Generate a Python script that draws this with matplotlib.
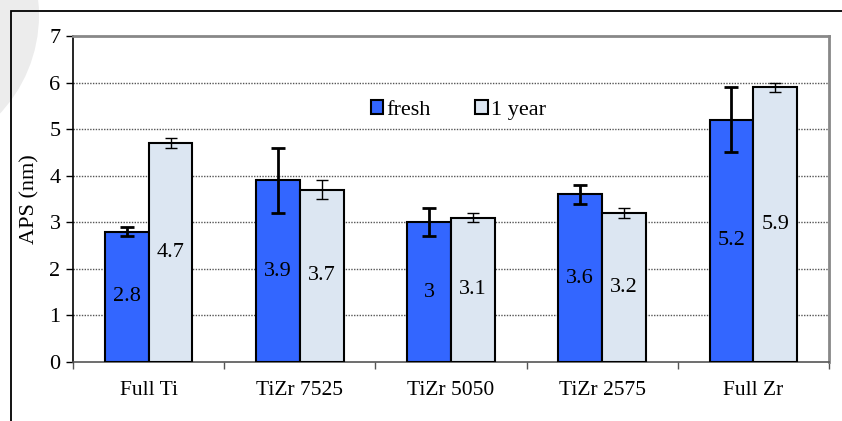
import matplotlib
matplotlib.use("Agg")
import matplotlib.pyplot as plt
import numpy as np
from matplotlib.patches import Ellipse, Rectangle

categories = ["Full Ti", "TiZr 7525", "TiZr 5050", "TiZr 2575", "Full Zr"]
fresh = [2.8, 3.9, 3.0, 3.6, 5.2]
fresh_err = [0.1, 0.7, 0.3, 0.2, 0.7]
year1 = [4.7, 3.7, 3.1, 3.2, 5.9]
year1_err = [0.1, 0.2, 0.1, 0.1, 0.1]
yticks = [0, 1, 2, 3, 4, 5, 6, 7]

plt.rcParams["font.family"] = ["Liberation Serif", "DejaVu Serif"]

W, H = 842, 421
fig = plt.figure(figsize=(W / 100, H / 100), dpi=100)

# decorative background disc in the upper-left corner
fig.patches.append(Ellipse((-105 / W, 1 - 15 / H), 2 * 144 / W, 2 * 144 / H,
                           transform=fig.transFigure, facecolor="#ececec",
                           edgecolor="none", zorder=0))
# outer frame (runs off the right and bottom edges)
fig.patches.append(Rectangle((11 / W, -0.1), 1.2, 1 - 11 / H + 0.1,
                             transform=fig.transFigure, facecolor="none",
                             edgecolor="black", linewidth=1.3, zorder=1))

ax = fig.add_axes([73 / W, 59 / H, 756 / W, 326 / H])
ax.set_facecolor("white")

x = np.arange(len(categories))
w = 0.29
fs = 16

ax.bar(x - w / 2, fresh, w, color="#3366ff", edgecolor="black",
       linewidth=1.5, zorder=3, label="fresh")
ax.bar(x + w / 2, year1, w, color="#dce6f2", edgecolor="black",
       linewidth=1.5, zorder=3, label="1 year")
ax.errorbar(x - w / 2, fresh, yerr=fresh_err, fmt="none", ecolor="black",
            elinewidth=2, capsize=5, capthick=2, zorder=4)
ax.errorbar(x + w / 2, year1, yerr=year1_err, fmt="none", ecolor="black",
            elinewidth=1, capsize=4, capthick=1, zorder=4)

for xi, v in zip(x - w / 2, fresh):
    ax.text(xi, v / 2, f"{v:g}", ha="center", va="center", fontsize=fs, zorder=5)
for xi, v in zip(x + w / 2, year1):
    ax.text(xi, v / 2, f"{v:g}", ha="center", va="center", fontsize=fs, zorder=5)

ax.set_xlim(-0.5, len(categories) - 0.5)
ax.set_ylim(0, 7)
ax.set_yticks(yticks)
ax.set_yticklabels([str(t) for t in yticks], fontsize=fs)
ax.set_xticks(np.arange(len(categories) + 1) - 0.5)
ax.set_xticklabels([])
ax.set_xticks(x, minor=True)
ax.set_xticklabels(categories, minor=True, fontsize=15.5)
ax.tick_params(axis="x", which="minor", length=0, pad=14)
ax.tick_params(axis="x", which="major", length=5, width=1, direction="out", color="#555555")
ax.tick_params(axis="y", length=5, width=1, direction="out", pad=4)

for yv in yticks[1:-1]:
    ax.axhline(yv, color="#555555", linewidth=1, linestyle=(0, (1, 1)), zorder=1)

ax.spines["left"].set_color("black")
ax.spines["left"].set_linewidth(1.2)
ax.spines["bottom"].set_color("#555555")
ax.spines["bottom"].set_linewidth(1.2)
ax.spines["top"].set_color("#888888")
ax.spines["top"].set_linewidth(2)
ax.spines["right"].set_color("#888888")
ax.spines["right"].set_linewidth(2)

ax.set_ylabel("APS (nm)", fontsize=fs, labelpad=7)

ax.legend(loc="center", bbox_to_anchor=(0.51, 0.773), ncol=2, frameon=False,
          fontsize=fs, handlelength=0.55, handleheight=0.55, handletextpad=0.15,
          columnspacing=2.0)

fig.savefig("out.png", dpi=100)
